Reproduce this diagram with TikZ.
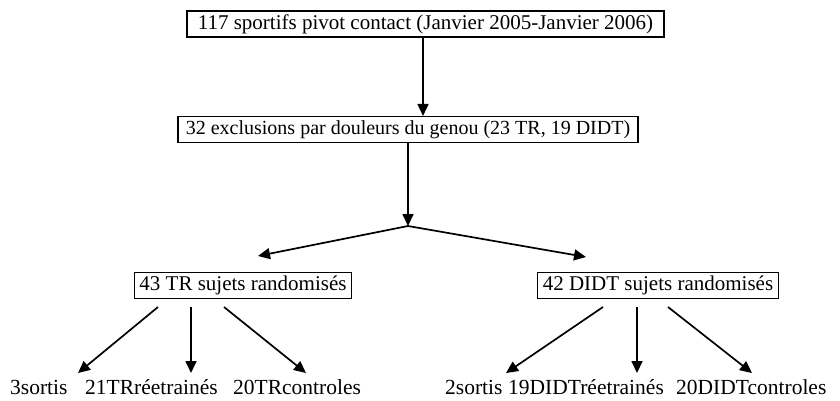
\documentclass[tikz,border=0pt]{standalone}
\usepackage{fontspec}
\setmainfont{Liberation Serif}
\usetikzlibrary{arrows.meta}
\begin{document}
\begin{tikzpicture}[x=1pt,y=-1pt,
  box/.style={draw,line width=1.1pt,inner xsep=5pt,inner ysep=3pt,
    font=\fontsize{21}{24}\selectfont,text height=15pt,text depth=5pt},
  lbl/.style={inner sep=0pt,font=\fontsize{21.5}{24}\selectfont,anchor=base west},
  arr/.style={line width=1.7pt,-{Triangle[length=12pt,width=11pt]}}]
\useasboundingbox (0,0) rectangle (840,400);
\node[box,minimum width=477pt] (b1) at (425.5,24) {117 sportifs pivot contact (Janvier 2005-Janvier 2006)};
\node[box,minimum width=460pt,font=\fontsize{20}{24}\selectfont] (b2) at (408,129.5) {32 exclusions par douleurs du genou (23 TR, 19 DIDT)};
\node[box] (b3) at (243,285.5) {43 TR sujets randomisés};
\node[box] (b4) at (658,285.5) {42 DIDT sujets randomisés};
\coordinate (br) at (408,226);
\coordinate (tl) at (258,256);
\coordinate (tr) at (586,257);
\draw[arr] ([xshift=-2.5pt]b1.south) -- ([xshift=-2.5pt]b1.south |- b2.north);
\draw[arr] (b2.south) -- (br);
\draw[arr] (br) -- (tl);
\draw[arr] (br) -- (tr);
% bottom labels
\node[lbl] (l1) at (10,394) {3sortis};
\node[lbl] (l2) at (85,394) {21TRréetrainés};
\node[lbl] (l3) at (233,394) {20TRcontroles};
\node[lbl] (r1) at (445,394) {2sortis};
\node[lbl] (r2) at (508,394) {19DIDTréetrainés};
\node[lbl] (r3) at (676,394) {20DIDTcontroles};
% start/end points of sub-arrows
\coordinate (s1) at (158,307); \coordinate (e1) at (78,373);
\coordinate (s2) at (191,307); \coordinate (e2) at (191,373);
\coordinate (s3) at (224,307); \coordinate (e3) at (306,373);
\coordinate (s4) at (603,307); \coordinate (e4) at (506,373);
\coordinate (s5) at (637,307); \coordinate (e5) at (637,373);
\coordinate (s6) at (668,307); \coordinate (e6) at (752,373);
\draw[arr] (s1) -- (e1);
\draw[arr] (s2) -- (e2);
\draw[arr] (s3) -- (e3);
\draw[arr] (s4) -- (e4);
\draw[arr] (s5) -- (e5);
\draw[arr] (s6) -- (e6);
\end{tikzpicture}
\end{document}
